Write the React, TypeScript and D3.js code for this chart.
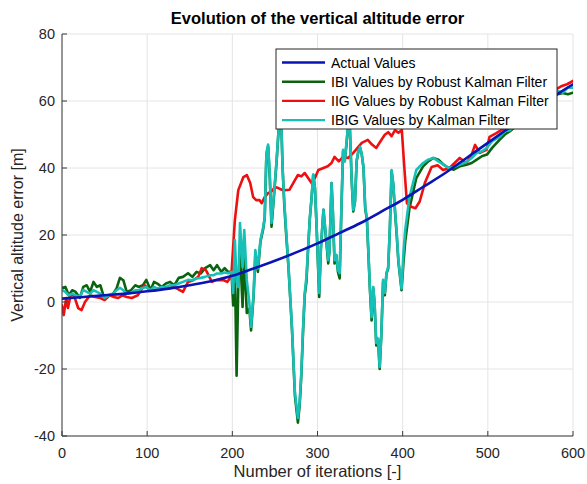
import React from "react";
import * as d3 from "d3";

// ---------- data ----------
const xTicks = [0, 100, 200, 300, 400, 500, 600];
const yTicks = [-40, -20, 0, 20, 40, 60, 80];

const actualIter = [0, 25, 50, 75, 100, 125, 150, 175, 200, 225, 250, 275, 300, 325, 350, 375, 400, 425, 450, 475, 500, 525, 550, 575, 600];
const actualValues = [1, 1.5, 2, 2.5, 3.2, 4, 5, 6.2, 7.8, 10, 12.3, 14.8, 17.5, 20.5, 23.5, 27, 30.5, 34.5, 38.5, 43, 47.5, 52, 56.5, 61, 65];

// shared iteration grid for IBI (green) and IBIG (cyan)
const ibIter = [
  0, 4, 8, 12, 16, 21, 25, 29, 33, 37, 41, 45, 50, 55, 60, 64, 68, 72, 76, 81, 86, 90, 95, 99, 104, 108, 112, 117, 122, 127,
  132, 137, 142, 148, 153, 158, 163, 168, 174, 178, 182, 187, 191, 195, 199,
  201, 203, 205, 207, 209, 212, 214, 217, 220, 222, 225, 227, 230, 233, 236, 238, 240, 242, 244, 246, 249, 252, 255, 257,
  259, 261, 263, 266, 270, 273.5, 277, 279, 281, 283, 285, 287, 289, 291, 293, 295, 297, 299, 302, 304, 307, 310, 312.6,
  314, 316.5, 318, 320, 322, 324, 326, 328, 330, 332, 334, 336, 338, 340, 342, 344, 346, 348, 350, 352, 354, 356, 358,
  359.5, 361.5, 363.5, 365.5, 367, 369, 371, 373, 375, 377, 379, 381, 383, 385, 387, 389, 391, 393, 395, 398.7, 401, 403,
  408, 416, 424, 430, 436, 442, 448, 454, 460, 467, 475, 481, 487, 493, 499, 505, 514, 520, 526, 535, 545, 555, 565, 575,
  582, 588, 594, 600,
];
const ibiValues = [
  4.2, 4.5, 2.0, 3.5, 3.0, 1.2, 4.5, 5.0, 3.0, 6.0, 4.5, 5.0, 0.8, 2.0, 2.5, 4.0, 7.2, 6.5, 3.0, 3.5, 5.0, 4.5, 5.0, 6.6, 3.6, 6.0, 5.5, 4.5, 5.5, 6.0,
  5.0, 7.2, 7.5, 8.6, 7.5, 9.0, 8.5, 10.1, 11.0, 9.5, 11.0, 9.0, 10.1, 9.0, 9.0,
  -1, 10, -22, 5, 16, -1.5, 14, -3.3, -2, -8.5, 2, 14, 9, 18, 21.5, 25, 44, 46.5, 37, 22.5, 32, 42, 54, 58,
  40, 29, 21, 10, -8, -28, -36, -31, -22, -9, 2, 6, 16, 25, 31, 38, 34, 22, 1.5, 16, 27.5, 19, 11.5,
  15, 35.5, 27, 11.5, 14, 9, 7, 27, 45, 42, 47, 53, 52, 37, 27, 30, 42, 45, 46, 44, 40, 28, 24.5,
  16, 4, -5.5, 4, -0.5, -13, -11, -20, -9.5, 6, 2, 8.5, 10, 22, 39, 35, 27, 20, 12, 3.5, 12, 18,
  28, 37, 40.5, 42, 43, 42.5, 41, 40, 39.5, 40.5, 41, 41.5, 42.5, 43.5, 44, 46, 48.5, 50, 51, 53, 55.5, 58, 60, 61,
  62, 62.4, 62, 62.5,
];
const ibigValues = [
  3.6, 3.0, 2.0, 2.5, 2.0, 1.5, 3.6, 3.0, 2.5, 3.5, 3.0, 2.5, 1.2, 2.0, 2.5, 3.5, 4.2, 3.5, 2.5, 2.7, 3.5, 3.5, 4.2, 4.5, 3.5, 4.5, 4.0, 4.5, 4.5, 5.0,
  5.0, 5.5, 6.0, 6.6, 6.5, 7.0, 7.2, 7.5, 8.0, 8.0, 8.5, 8.5, 8.8, 8.6, 9.0,
  2.7, 18.5, 6, 4.5, 23.6, 10.4, 21.5, 6.6, -0.3, -7.4, 2.7, 15.5, 10, 18.5, 22, 25, 44.5, 47, 38, 23.6, 32.5, 42.4, 54, 58,
  40, 30, 22, 10.4, -7.5, -27, -34.6, -30, -21, -8, 2.7, 7.5, 16.4, 25, 31, 38, 34, 22.4, 2.7, 16.4, 27.5, 19.5, 12.5,
  15, 35.5, 27.5, 12.5, 14, 9.5, 8.6, 27.5, 45.4, 42, 47.5, 53, 52, 37.3, 27.5, 30, 42.4, 45, 46.3, 44, 40.3, 28.4, 25,
  16.4, 4.5, -4.5, 4.5, 0, -12.2, -11, -19.4, -9.3, 6.6, 2.7, 8.6, 10.4, 22.4, 39.4, 35, 27.5, 20.6, 12.5, 4, 15, 21.5,
  31.3, 39.4, 41.5, 42.5, 43, 42, 41, 40, 40.3, 41, 41.8, 43, 44.5, 45, 46, 48, 49.3, 51, 51.3, 54, 57, 59, 60.5, 62,
  63, 62.5, 64, 64,
];

const iigIter = [
  0, 2, 5, 7, 10, 14, 19, 23, 27, 33, 39, 45, 50, 56, 61, 66, 71, 76, 82, 89, 94, 97, 103, 111, 118, 125, 130, 135, 142, 148,
  154, 160, 164, 169, 176, 180, 185, 190, 194, 197, 199, 203, 207, 213, 217, 221, 224.5, 228, 232, 234.5, 238, 242, 246, 250,
  254, 258, 262, 267, 273.5, 277, 281, 285, 289, 293, 297, 301, 307, 312, 316.5, 320, 325, 330, 336, 342, 348, 352, 359,
  364, 369, 374, 379, 383, 387, 391, 395, 399, 402, 405, 410, 415, 420, 426, 434, 441, 447.5, 455, 461, 467, 475, 481, 485,
  490.6, 498.5, 502, 510, 520, 530, 540, 550, 560, 570, 580, 587, 593, 600,
];
const iigValues = [
  -1, -3.9, 1.2, -1.8, 2, 2, -1.8, -2.4, 0, 2, 1.5, 1.2, 0.6, 2, 1.5, 1.2, 2, 1.5, 1.2, 2, 4, 5, 3.6, 3.6, 4.5, 4, 4.5, 4, 3, 6,
  6.5, 7.5, 10.1, 9.5, 6, 6.5, 6.6, 6.5, 6, 7, 8.6, 24.5, 33.4, 37.3, 37.9, 35.5, 31.3, 30.4, 30.4, 29.5, 31.3, 32.5, 33, 34.3,
  34, 33.5, 33.4, 33.5, 36.4, 37.9, 37.5, 38.5, 37, 35.5, 37, 39.4, 40, 40.5, 41.5, 43.3, 42, 43.3, 43, 44.5, 46.3, 47.5, 48.4,
  47, 46, 48, 49.9, 50.7, 49.5, 51.3, 50.5, 51.3, 40, 29.5, 28.4, 28, 30, 35.5, 40.3, 40.8, 39.4, 40, 41.5, 43, 41.5, 44, 46.9,
  44.5, 45.4, 49.3, 50.4, 52, 54, 56, 58, 60, 62, 63.5, 64.5, 65, 66,
];

const seriesNames = [
  "Actual Values",
  "IBI Values by Robust Kalman Filter",
  "IIG Values by Robust Kalman Filter",
  "IBIG Values by Kalman Filter",
];
const seriesColors = ["#0a14b4", "#0a640f", "#ee1010", "#17c0b6"];

// ---------- layout ----------
const W = 587;
const H = 484;
const M = { left: 62, right: 573, top: 34, bottom: 436 };

export default function App() {
  const x = d3.scaleLinear().domain([0, 600]).range([M.left, M.right]);
  const y = d3.scaleLinear().domain([-40, 80]).range([M.bottom, M.top]);

  const mk = (it: number[], v: number[]) => it.map((d, i) => [d, v[i]] as [number, number]);
  const line = d3
    .line<[number, number]>()
    .x((d) => x(d[0]))
    .y((d) => y(d[1]));
  const smooth = d3
    .line<[number, number]>()
    .x((d) => x(d[0]))
    .y((d) => y(d[1]))
    .curve(d3.curveMonotoneX);

  const paths = [
    { d: smooth(mk(actualIter, actualValues)), c: seriesColors[0] },
    { d: line(mk(ibIter, ibiValues)), c: seriesColors[1] },
    { d: line(mk(iigIter, iigValues)), c: seriesColors[2] },
    { d: line(mk(ibIter, ibigValues)), c: seriesColors[3] },
  ];
  const drawOrder = [1, 2, 3, 0];

  const axisColor = "#3a3a3a";
  const font = "'Liberation Sans', Arial, sans-serif";

  const legX = 276;
  const legY = 49;
  const legW = 281;
  const legH = 80;

  return (
    <svg width={W} height={H} style={{ position: "absolute", left: 0, top: 0, background: "#fff" }} fontFamily={font}>
      <defs>
        <clipPath id="plotClip">
          <rect x={M.left} y={M.top} width={M.right - M.left} height={M.bottom - M.top} />
        </clipPath>
      </defs>
      <rect x={0} y={0} width={W} height={H} fill="#fff" />
      {/* grid */}
      {xTicks.map((t) => (
        <line key={"gx" + t} x1={x(t)} x2={x(t)} y1={M.top} y2={M.bottom} stroke="#e4e4e4" strokeWidth={1} />
      ))}
      {yTicks.map((t) => (
        <line key={"gy" + t} x1={M.left} x2={M.right} y1={y(t)} y2={y(t)} stroke="#e4e4e4" strokeWidth={1} />
      ))}
      {/* series */}
      <g clipPath="url(#plotClip)" fill="none" strokeLinejoin="round" strokeLinecap="round">
        {drawOrder.map((i) => (
          <path key={"s" + i} d={paths[i].d || ""} stroke={paths[i].c} strokeWidth={2.6} />
        ))}
      </g>
      {/* axes */}
      <line x1={M.left} x2={M.left} y1={M.top} y2={M.bottom} stroke={axisColor} strokeWidth={1} />
      <line x1={M.left} x2={M.right} y1={M.bottom} y2={M.bottom} stroke={axisColor} strokeWidth={1} />
      {xTicks.map((t) => (
        <g key={"xt" + t}>
          <line x1={x(t)} x2={x(t)} y1={M.bottom} y2={M.bottom - 5} stroke={axisColor} />
          <text x={x(t)} y={M.bottom + 22} textAnchor="middle" fontSize={14.5} fill="#262626">
            {t}
          </text>
        </g>
      ))}
      {yTicks.map((t) => (
        <g key={"yt" + t}>
          <line x1={M.left} x2={M.left + 5} y1={y(t)} y2={y(t)} stroke={axisColor} />
          <text x={M.left - 7} y={y(t) + 5} textAnchor="end" fontSize={14.5} fill="#262626">
            {t}
          </text>
        </g>
      ))}
      {/* labels */}
      <text x={(M.left + M.right) / 2} y={477} textAnchor="middle" fontSize={16.5} fill="#262626">
        Number of iterations [-]
      </text>
      <text
        transform={`translate(23, ${(M.top + M.bottom) / 2}) rotate(-90)`}
        textAnchor="middle"
        fontSize={16}
        fill="#262626"
      >
        Vertical altitude error [m]
      </text>
      <text x={(M.left + M.right) / 2} y={24} textAnchor="middle" fontSize={16.5} fontWeight="bold" fill="#000">
        Evolution of the vertical altitude error
      </text>
      {/* legend */}
      <rect x={legX} y={legY} width={legW} height={legH} fill="#fff" stroke="#262626" strokeWidth={1} />
      {seriesNames.map((n, i) => {
        const cy = legY + 13.5 + i * 19.2;
        return (
          <g key={"lg" + i}>
            <line x1={legX + 6} x2={legX + 49} y1={cy} y2={cy} stroke={seriesColors[i]} strokeWidth={2.4} />
            <text x={legX + 55} y={cy + 5} fontSize={14} fill="#000">
              {n}
            </text>
          </g>
        );
      })}
    </svg>
  );
}
